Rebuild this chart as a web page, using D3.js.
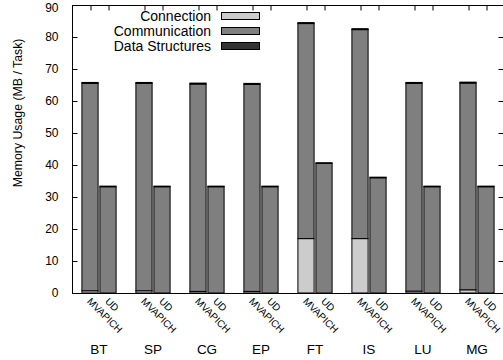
<!DOCTYPE html>
<html>
<head>
<meta charset="utf-8">
<script src="https://cdn.jsdelivr.net/npm/d3@7"></script>
<style>
  html, body { margin: 0; padding: 0; background: #fff; }
  svg { display: block; font-family: "Liberation Sans", Arial, sans-serif; }
</style>
</head>
<body>
<svg id="chart" width="503" height="360"></svg>
<script>
// ---- data ----
const benchmarks = ["BT", "SP", "CG", "EP", "FT", "IS", "LU", "MG"];
const implementations = ["MVAPICH", "UD"];
const seriesNames = ["Connection", "Communication", "Data Structures"];
// MVAPICH stacks (MB / task)
const mvapichConnection     = [0.7, 0.7, 0.5, 0.5, 17.0, 17.0, 0.6, 1.0];
const mvapichCommunication  = [64.8, 64.8, 64.8, 64.7, 67.2, 65.3, 64.9, 64.6];
const mvapichDataStructures = [0.3, 0.3, 0.3, 0.3, 0.3, 0.3, 0.3, 0.3];
// UD stacks (MB / task)
const udConnection     = [0, 0, 0, 0, 0, 0, 0, 0];
const udCommunication  = [33.2, 33.2, 33.2, 33.2, 40.5, 36.0, 33.2, 33.2];
const udDataStructures = [0.2, 0.2, 0.2, 0.2, 0.2, 0.2, 0.2, 0.2];
const yTicks = [0, 10, 20, 30, 40, 50, 60, 70, 80, 90];

// ---- layout ----
const svg = d3.select("#chart");
const mLeft = 72, mRight = 504, mTop = 5, mBottom = 293;
const colors = ["#cccccc", "#7f7f7f", "#333333"];

const x = d3.scaleLinear().domain([0, 24]).range([mLeft, mRight]);
const y = d3.scaleLinear().domain([0, 90]).range([mBottom, mTop]);
const barW = 0.9;

// build stacked rows
const rows = [];
benchmarks.forEach((b, i) => {
  const sets = [
    [mvapichConnection[i], mvapichCommunication[i], mvapichDataStructures[i]],
    [udConnection[i], udCommunication[i], udDataStructures[i]]
  ];
  sets.forEach((vals, j) => {
    let acc = 0;
    vals.forEach((v, k) => {
      rows.push({ pos: 1 + 3 * i + j, y0: acc, y1: acc + v, k: k });
      acc += v;
    });
  });
});

// bars
svg.append("g").selectAll("rect").data(rows.filter(d => d.y1 > d.y0)).join("rect")
  .attr("x", d => x(d.pos - barW / 2))
  .attr("width", d => x(d.pos + barW / 2) - x(d.pos - barW / 2))
  .attr("y", d => y(d.y1))
  .attr("height", d => y(d.y0) - y(d.y1))
  .attr("fill", d => colors[d.k])
  .attr("stroke", "#000")
  .attr("stroke-width", 1);

// frame
svg.append("rect")
  .attr("x", mLeft + 0.5).attr("y", mTop + 0.5)
  .attr("width", mRight - mLeft).attr("height", mBottom - mTop)
  .attr("fill", "none").attr("stroke", "#000").attr("stroke-width", 1);

// y axis (left) with inward ticks
const yAxisL = d3.axisLeft(y).tickValues(yTicks).tickSize(-5).tickPadding(14);
const gL = svg.append("g").attr("transform", `translate(${mLeft + 0.5},0)`).call(yAxisL);
gL.select(".domain").remove();
gL.selectAll("text").attr("font-size", 12).attr("fill", "#000")
  .style("font-family", "Liberation Sans, Arial, sans-serif");
// keep the top label inside the canvas
gL.selectAll(".tick").filter(d => d === 90).select("text").attr("dy", "0.5em");
gL.selectAll("line").attr("stroke", "#000");

// mirrored y ticks on right
const yAxisR = d3.axisRight(y).tickValues(yTicks).tickSize(-5).tickFormat("");
const gR = svg.append("g").attr("transform", `translate(${mRight - 0.5},0)`).call(yAxisR);
gR.select(".domain").remove();
gR.selectAll("line").attr("stroke", "#000");

// x ticks at bar centers (top mirrored, pointing down)
const tickPos = [];
benchmarks.forEach((b, i) => { tickPos.push(1 + 3 * i, 2 + 3 * i); });
const xAxisT = d3.axisTop(x).tickValues(tickPos).tickSize(-5).tickFormat("");
const gT = svg.append("g").attr("transform", `translate(0.5,${mTop + 0.5})`).call(xAxisT);
gT.select(".domain").remove();
gT.selectAll("line").attr("stroke", "#000");

// bottom axis line (drawn over bars)
svg.append("line").attr("x1", mLeft).attr("x2", mRight)
  .attr("y1", mBottom + 0.5).attr("y2", mBottom + 0.5).attr("stroke", "#000");

// rotated implementation labels
const lab = svg.append("g").attr("font-size", 10).attr("fill", "#000");
benchmarks.forEach((b, i) => {
  implementations.forEach((imp, j) => {
    const cx = x(1 + 3 * i + j) - 3.5;
    lab.append("text")
      .attr("transform", `translate(${cx},${mBottom + 9}) rotate(45)`)
      .attr("text-anchor", "start")
      .text(imp);
  });
});

// group labels
svg.append("g").selectAll("text").data(benchmarks).join("text")
  .attr("x", (d, i) => x(1.5 + 3 * i))
  .attr("y", 354)
  .attr("text-anchor", "middle")
  .attr("font-size", 13.5)
  .text(d => d);

// y title
svg.append("text")
  .attr("transform", `translate(22,${113}) rotate(-90)`)
  .attr("text-anchor", "middle")
  .attr("font-size", 12.3)
  .text("Memory Usage (MB / Task)");

// legend
const leg = svg.append("g");
seriesNames.forEach((name, k) => {
  const cy = 16 + k * 15;
  leg.append("text").attr("x", 211).attr("y", cy + 4.5)
    .attr("text-anchor", "end").attr("font-size", 14).text(name);
  leg.append("rect").attr("x", 221.5).attr("y", cy - 3.5)
    .attr("width", 38).attr("height", 7)
    .attr("fill", colors[k]).attr("stroke", "#000");
});
</script>
</body>
</html>
